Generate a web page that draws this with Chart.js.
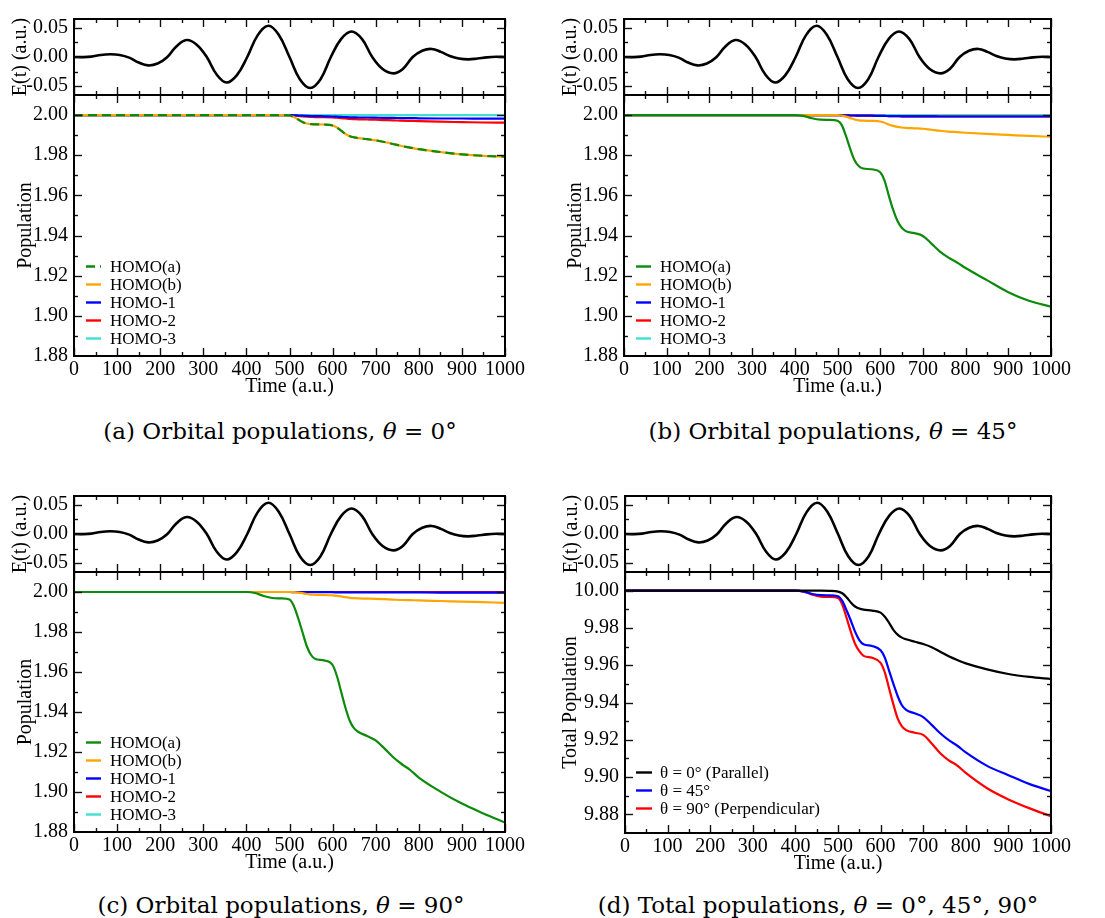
<!DOCTYPE html>
<html><head><meta charset="utf-8">
<script src="https://cdn.jsdelivr.net/npm/chart.js@4.4.1/dist/chart.umd.min.js"></script>
<style>
html,body{margin:0;padding:0;background:#fff;}
body{width:1105px;height:918px;position:relative;overflow:hidden;}
canvas{position:absolute;}
.cap{position:absolute;font-family:"DejaVu Serif",serif;font-size:23px;line-height:26px;color:#000;white-space:nowrap;transform:translateX(-50%);}
.cap i{font-style:italic;}
</style></head><body>
<div class="cap" style="left:280px;top:418px">(a) Orbital populations, <i>θ</i> = 0°</div>
<div class="cap" style="left:833px;top:418px">(b) Orbital populations, <i>θ</i> = 45°</div>
<div class="cap" style="left:281px;top:892px">(c) Orbital populations, <i>θ</i> = 90°</div>
<div class="cap" style="left:818px;top:892px">(d) Total populations, <i>θ</i> = 0°, 45°, 90°</div>
<script>
// ---------------- data ----------------
const timeTicks = [0,100,200,300,400,500,600,700,800,900,1000];
const fieldTicks = [-0.05,0,0.05];
const popTicks = [1.88,1.90,1.92,1.94,1.96,1.98,2.00];
const totTicks = [9.88,9.90,9.92,9.94,9.96,9.98,10.00];

const fieldTime  = [0,20,40,62,84,106,128,150,172,194,216,238,261,284,308,331,354,378,402,426,451,475,500,524,548,572,596,620,644,668,692,716,741,763,786,808,830,851,872,893,915,936,958,980,1000];
const fieldValue = [0.000,-0.0002,0.0006,0.0035,0.0046,0.0035,-0.001,-0.0095,-0.0144,-0.0112,-0.0005,0.0185,0.029,0.0215,0.000,-0.030,-0.0437,-0.031,0.000,0.037,0.0534,0.038,0.000,-0.038,-0.053,-0.038,0.000,0.031,0.0437,0.031,0.000,-0.0205,-0.028,-0.0205,0.000,0.0108,0.0138,0.0088,0.0018,-0.0026,-0.0040,-0.0026,-0.0006,0.0003,0.000];

const popTime = [0,400,420,440,460,480,500,510,520,530,540,550,560,580,600,610,620,630,640,650,660,680,700,720,740,760,780,800,850,900,950,1000];

// (a) theta = 0
const aHomoA = [2.0000,2.0000,2.0000,2.0000,2.0000,2.0000,1.9998,1.9990,1.9978,1.9966,1.9958,1.9955,1.9954,1.9953,1.9948,1.9938,1.9922,1.9906,1.9895,1.9889,1.9885,1.9880,1.9874,1.9866,1.9856,1.9846,1.9838,1.9830,1.9816,1.9804,1.9797,1.9793];
const aHomoB = [2.0000,2.0000,2.0000,2.0000,2.0000,2.0000,1.9998,1.9990,1.9978,1.9966,1.9958,1.9955,1.9954,1.9953,1.9948,1.9938,1.9922,1.9906,1.9895,1.9889,1.9885,1.9880,1.9874,1.9866,1.9856,1.9846,1.9838,1.9830,1.9816,1.9804,1.9797,1.9793];
const aHomo1 = [2.0000,2.0000,2.0000,2.0000,2.0000,2.0000,2.0000,1.9999,1.9998,1.9997,1.9996,1.9995,1.9995,1.9994,1.9993,1.9992,1.9991,1.9990,1.9989,1.9989,1.9988,1.9988,1.9987,1.9986,1.9986,1.9985,1.9985,1.9984,1.9983,1.9983,1.9982,1.9982];
const aHomo2 = [2.0000,2.0000,2.0000,2.0000,2.0000,2.0000,2.0000,1.9998,1.9996,1.9994,1.9992,1.9991,1.9990,1.9990,1.9989,1.9987,1.9985,1.9983,1.9981,1.9980,1.9979,1.9978,1.9977,1.9975,1.9974,1.9972,1.9971,1.9970,1.9967,1.9965,1.9963,1.9962];
const aHomo3 = [2.0000,2.0000,2.0000,2.0000,2.0000,2.0000,2.0000,2.0000,2.0000,2.0000,2.0000,2.0000,2.0000,2.0000,2.0000,2.0000,2.0000,2.0000,2.0000,2.0000,2.0000,2.0000,2.0000,2.0000,2.0000,2.0000,2.0000,2.0000,2.0000,2.0000,2.0000,2.0000];

// (b) theta = 45
const bHomoA = [2.0000,2.0000,1.9996,1.9984,1.9977,1.9976,1.9972,1.9950,1.9895,1.9830,1.9775,1.9745,1.9734,1.9730,1.9715,1.9675,1.9600,1.9530,1.9475,1.9440,1.9422,1.9412,1.9398,1.9360,1.9320,1.9290,1.9266,1.9238,1.9178,1.9118,1.9074,1.9046];
const bHomoB = [2.0000,2.0000,2.0000,2.0000,2.0000,2.0000,2.0000,1.9997,1.9992,1.9985,1.9978,1.9974,1.9972,1.9971,1.9968,1.9962,1.9953,1.9946,1.9941,1.9938,1.9936,1.9934,1.9932,1.9927,1.9922,1.9918,1.9915,1.9912,1.9906,1.9901,1.9896,1.9892];
const bHomo1 = [2.0000,2.0000,2.0000,2.0000,2.0000,2.0000,2.0000,1.9999,1.9999,1.9998,1.9998,1.9997,1.9997,1.9997,1.9996,1.9996,1.9995,1.9995,1.9995,1.9994,1.9994,1.9994,1.9994,1.9994,1.9993,1.9993,1.9993,1.9993,1.9993,1.9993,1.9993,1.9993];
const bHomo2 = [2.0000,2.0000,2.0000,2.0000,2.0000,2.0000,2.0000,1.9999,1.9999,1.9998,1.9998,1.9997,1.9997,1.9997,1.9996,1.9996,1.9995,1.9995,1.9995,1.9994,1.9994,1.9994,1.9994,1.9994,1.9993,1.9993,1.9993,1.9993,1.9993,1.9993,1.9993,1.9993];
const bHomo3 = [2.0000,2.0000,2.0000,2.0000,2.0000,2.0000,2.0000,2.0000,2.0000,2.0000,2.0000,2.0000,2.0000,2.0000,2.0000,2.0000,2.0000,2.0000,2.0000,2.0000,2.0000,2.0000,2.0000,2.0000,2.0000,2.0000,2.0000,2.0000,2.0000,2.0000,2.0000,2.0000];

// (c) theta = 90
const cHomoA = [2.0000,2.0000,1.9995,1.9980,1.9970,1.9968,1.9962,1.9930,1.9870,1.9800,1.9730,1.9685,1.9665,1.9658,1.9635,1.9580,1.9500,1.9420,1.9355,1.9318,1.9300,1.9280,1.9258,1.9218,1.9175,1.9140,1.9110,1.9072,1.9002,1.8942,1.8893,1.8847];
const cHomoB = [2.0000,2.0000,2.0000,2.0000,2.0000,2.0000,2.0000,1.9999,1.9997,1.9994,1.9990,1.9987,1.9986,1.9985,1.9983,1.9981,1.9978,1.9974,1.9971,1.9969,1.9968,1.9967,1.9966,1.9964,1.9962,1.9960,1.9959,1.9958,1.9955,1.9952,1.9949,1.9946];
const cHomo1 = [2.0000,2.0000,2.0000,2.0000,2.0000,2.0000,2.0000,1.9999,1.9999,1.9999,1.9999,1.9999,1.9999,1.9999,1.9999,1.9998,1.9998,1.9998,1.9998,1.9998,1.9998,1.9998,1.9998,1.9998,1.9998,1.9998,1.9998,1.9998,1.9997,1.9997,1.9997,1.9997];
const cHomo2 = [2.0000,2.0000,2.0000,2.0000,2.0000,2.0000,2.0000,2.0000,2.0000,2.0000,2.0000,2.0000,2.0000,2.0000,2.0000,2.0000,2.0000,2.0000,2.0000,2.0000,2.0000,2.0000,2.0000,2.0000,2.0000,2.0000,2.0000,2.0000,1.9999,1.9999,1.9999,1.9999];
const cHomo3 = [2.0000,2.0000,2.0000,2.0000,2.0000,2.0000,2.0000,2.0000,2.0000,2.0000,2.0000,2.0000,2.0000,2.0000,2.0000,2.0000,2.0000,2.0000,2.0000,2.0000,2.0000,2.0000,2.0000,2.0000,2.0000,2.0000,2.0000,2.0000,2.0000,2.0000,2.0000,2.0000];

// (d) total populations
const tot0  = [10.0000,10.0000,10.0000,10.0000,10.0000,9.9999,9.9995,9.9986,9.9965,9.9937,9.9915,9.9904,9.9898,9.9893,9.9882,9.9860,9.9827,9.9790,9.9764,9.9748,9.9739,9.9726,9.9714,9.9697,9.9672,9.9648,9.9628,9.9610,9.9578,9.9553,9.9537,9.9526];
const tot45 = [10.0000,10.0000,9.9995,9.9982,9.9976,9.9975,9.9970,9.9945,9.9895,9.9840,9.9780,9.9735,9.9712,9.9703,9.9680,9.9640,9.9570,9.9500,9.9435,9.9385,9.9360,9.9342,9.9322,9.9280,9.9235,9.9198,9.9168,9.9132,9.9060,9.9010,9.8962,9.8925];
const tot90 = [10.0000,10.0000,9.9994,9.9978,9.9968,9.9966,9.9960,9.9925,9.9855,9.9780,9.9715,9.9675,9.9650,9.9640,9.9612,9.9560,9.9475,9.9390,9.9315,9.9272,9.9252,9.9238,9.9226,9.9180,9.9128,9.9090,9.9062,9.9022,9.8940,9.8880,9.8832,9.8790];

const orbitalLabels = ['HOMO(a)','HOMO(b)','HOMO-1','HOMO-2','HOMO-3'];
const totalLabels = ['θ = 0° (Parallel)','θ = 45°','θ = 90° (Perpendicular)'];

// ---------------- styling ----------------
const FONT = "'Liberation Serif','Times New Roman',serif";
const GREEN = '#0b8a0b', ORANGE = '#ffa500', BLUE = '#0000ff', RED = '#ff0000', CYAN = '#40e0d0', BLACK = '#000000';
const PADL = 74, PADR = 32;

function pts(xs, ys) { return xs.map((x, i) => ({x: x, y: ys[i]})); }

const frameTicks = {
  id: 'frameTicks',
  afterDatasetsDraw(chart, args, o) {
    const {ctx, chartArea: a, scales} = chart;
    const sx = scales.x, sy = scales.y;
    ctx.save();
    ctx.strokeStyle = '#111';
    ctx.lineWidth = 1.4;
    function seg(x1, y1, x2, y2) { ctx.beginPath(); ctx.moveTo(x1, y1); ctx.lineTo(x2, y2); ctx.stroke(); }
    function mids(arr) { const m = []; for (let i = 0; i < arr.length - 1; i++) m.push((arr[i] + arr[i+1]) / 2); return m; }
    const xt = (v, len) => { const p = Math.round(sx.getPixelForValue(v)) + 0.5; seg(p, a.top, p, a.top + len); seg(p, a.bottom, p, a.bottom - len); };
    const yt = (v, len) => { const p = Math.round(sy.getPixelForValue(v)) + 0.5; if (p < a.top || p > a.bottom) return; seg(a.left, p, a.left + len, p); seg(a.right, p, a.right - len, p); };
    o.xMajor.forEach(v => xt(v, 8));
    mids(o.xMajor).forEach(v => xt(v, 4));
    o.yMajor.forEach(v => yt(v, 8));
    mids(o.yMajor).forEach(v => yt(v, 4));
    ctx.strokeStyle = '#000';
    ctx.lineWidth = 2;
    ctx.strokeRect(a.left, a.top, a.right - a.left, a.bottom - a.top);
    ctx.restore();
  }
};

const insideLegend = {
  id: 'insideLegend',
  afterDraw(chart, args, o) {
    if (!o || !o.show) return;
    const {ctx, chartArea: a} = chart;
    ctx.save();
    ctx.font = '17px ' + FONT;
    ctx.textBaseline = 'middle';
    ctx.fillStyle = '#000';
    chart.data.datasets.forEach((ds, i) => {
      const y = Math.round(a.bottom + o.y0 + i * o.dy) + 0.5;
      ctx.strokeStyle = ds.borderColor;
      ctx.lineWidth = 2.4;
      ctx.setLineDash(ds.borderDash || []);
      ctx.beginPath(); ctx.moveTo(a.left + o.l0, y); ctx.lineTo(a.left + o.l1, y); ctx.stroke();
      ctx.setLineDash([]);
      ctx.fillText(ds.label, a.left + o.tx, y + 1);
    });
    ctx.restore();
  }
};

function build(rect, datasets, yMin, yMax, yTicks, yTitle, yTitlePad, isTop, legend) {
  const padT = 22, padB = isTop ? 22 : 45;
  const W = PADL + (rect.r - rect.l) + PADR;
  const H = padT + (rect.b - rect.t) + padB;
  const cv = document.createElement('canvas');
  cv.width = W; cv.height = H;
  cv.style.left = (rect.l - PADL) + 'px';
  cv.style.top = (rect.t - padT) + 'px';
  cv.style.width = W + 'px'; cv.style.height = H + 'px';
  document.body.appendChild(cv);
  const tickFont = {family: FONT, size: 20};
  new Chart(cv, {
    type: 'line',
    data: {datasets: datasets},
    plugins: [frameTicks, insideLegend],
    options: {
      responsive: false, animation: false, devicePixelRatio: 1,
      layout: {padding: {left: 0, top: padT, right: PADR, bottom: 0}},
      elements: {point: {radius: 0}, line: {borderWidth: 2.2, cubicInterpolationMode: 'monotone', borderCapStyle: 'butt'}},
      plugins: {
        legend: {display: false}, tooltip: {enabled: false},
        frameTicks: {xMajor: timeTicks, yMajor: yTicks},
        insideLegend: legend || {show: false}
      },
      scales: {
        x: {
          type: 'linear', min: 0, max: 1000,
          afterBuildTicks: s => { s.ticks = timeTicks.map(v => ({value: v})); },
          afterFit: s => { s.height = padB; },
          grid: {display: false, drawTicks: false}, border: {display: false},
          ticks: {display: !isTop, font: tickFont, color: '#000', padding: 2, maxRotation: 0, autoSkip: false, callback: v => String(v)},
          title: {display: !isTop, text: 'Time (a.u.)', font: {family: FONT, size: 20}, color: '#000', padding: {top: 0, bottom: 2}}
        },
        y: {
          type: 'linear', min: yMin, max: yMax,
          afterBuildTicks: s => { s.ticks = yTicks.map(v => ({value: v})); },
          afterFit: s => { s.width = PADL; },
          grid: {display: false, drawTicks: false}, border: {display: false},
          ticks: {font: tickFont, color: '#000', padding: 6, autoSkip: false, callback: v => v.toFixed(2)},
          title: {display: true, text: yTitle, font: {family: FONT, size: 20}, color: '#000', padding: {top: yTitlePad, bottom: 0}}
        }
      }
    }
  });
}

function fieldSet() {
  return [{label: 'E(t)', data: pts(fieldTime, fieldValue), borderColor: BLACK, borderWidth: 2.6, fill: false,
           cubicInterpolationMode: 'default', tension: 0.4}];
}
function orbitalSets(A, B, H1, H2, H3, dashedA) {
  const arrs = [A, B, H1, H2, H3], cols = [GREEN, ORANGE, BLUE, RED, CYAN];
  return arrs.map((arr, i) => {
    const d = {label: orbitalLabels[i], data: pts(popTime, arr), borderColor: cols[i], fill: false};
    if (i === 0 && dashedA) d.borderDash = [9, 5];
    return d;
  });
}

const panels = [
  {E: {l: 74, r: 505, t: 19, b: 95}, P: {l: 74, r: 505, t: 95, b: 356}, sets: orbitalSets(aHomoA, aHomoB, aHomo1, aHomo2, aHomo3, true)},
  {E: {l: 624, r: 1051, t: 19, b: 95}, P: {l: 624, r: 1051, t: 95, b: 356}, sets: orbitalSets(bHomoA, bHomoB, bHomo1, bHomo2, bHomo3, false)},
  {E: {l: 74, r: 505, t: 496, b: 572}, P: {l: 74, r: 505, t: 572, b: 832}, sets: orbitalSets(cHomoA, cHomoB, cHomo1, cHomo2, cHomo3, false)}
];
panels.forEach(p => {
  build(p.E, fieldSet(), -0.065, 0.065, fieldTicks, 'E(t) (a.u.)', 9, true, null);
  build(p.P, p.sets, 1.88, 2.01, popTicks, 'Population', 14, false,
        {show: true, y0: -90, dy: 17.9, l0: 12, l1: 27, tx: 36});
});

// panel (d)
build({l: 625, r: 1051, t: 496, b: 572}, fieldSet(), -0.065, 0.065, fieldTicks, 'E(t) (a.u.)', 9, true, null);
build({l: 625, r: 1051, t: 572, b: 833},
  [
    {label: totalLabels[0], data: pts(popTime, tot0), borderColor: BLACK, fill: false},
    {label: totalLabels[1], data: pts(popTime, tot45), borderColor: BLUE, fill: false},
    {label: totalLabels[2], data: pts(popTime, tot90), borderColor: RED, fill: false}
  ],
  9.87, 10.01, totTicks, 'Total Population', 8, false,
  {show: true, y0: -61, dy: 18, l0: 11, l1: 27, tx: 35});
</script>
</body></html>
